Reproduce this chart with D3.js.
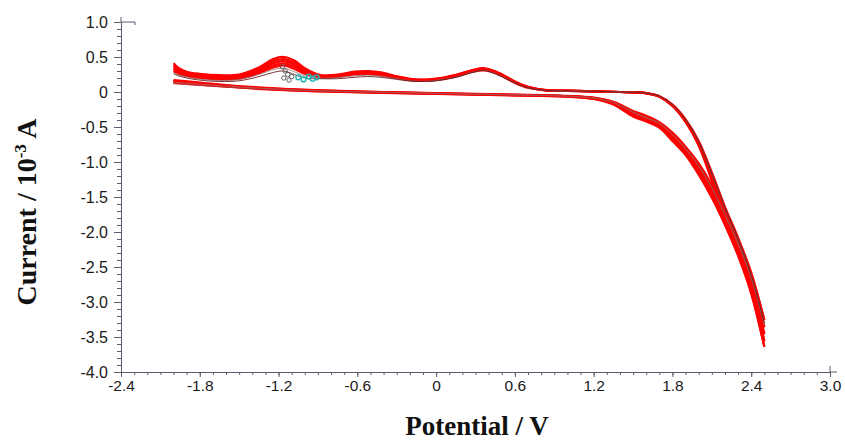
<!DOCTYPE html>
<html>
<head>
<meta charset="utf-8">
<script src="https://cdn.jsdelivr.net/npm/d3@7"></script>
<style>
  body { margin: 0; background: #fff; }
</style>
</head>
<body>
<div id="my_dataviz"></div>
<script>
// Potentials (V) of the two sweep directions
const fwdPotential = [-2.0, -1.6, -1.2, -0.8, -0.4, 0.0, 0.4, 0.8, 1.0, 1.2, 1.35, 1.5, 1.6, 1.7, 1.8, 1.9, 2.0, 2.1, 2.2, 2.3, 2.4, 2.5];
const revPotential = [2.5, 2.4, 2.3, 2.2, 2.1, 2.0, 1.9, 1.8, 1.7, 1.6, 1.4, 1.2, 1.0, 0.85, 0.7, 0.6, 0.5, 0.42, 0.36, 0.28, 0.15, 0.0,
  -0.15, -0.3, -0.42, -0.52, -0.62, -0.75, -0.88, -1.0, -1.08, -1.16, -1.24, -1.35, -1.5, -1.65, -1.8, -1.9, -1.96, -2.0];

// Current (10^-3 A), red cycles, forward sweep
const redForward = [
  [0.17, 0.10, 0.05, 0.02, 0.0, -0.015, -0.03, -0.045, -0.055, -0.08, -0.14, -0.27, -0.34, -0.43, -0.58, -0.78, -1.02, -1.33, -1.72, -2.12, -2.6, -3.26],
  [0.16, 0.09, 0.045, 0.015, -0.003, -0.018, -0.033, -0.048, -0.058, -0.085, -0.15, -0.29, -0.36, -0.45, -0.61, -0.81, -1.06, -1.38, -1.77, -2.18, -2.68, -3.36],
  [0.15, 0.085, 0.04, 0.012, -0.006, -0.021, -0.036, -0.05, -0.06, -0.09, -0.16, -0.31, -0.38, -0.47, -0.64, -0.84, -1.1, -1.42, -1.81, -2.23, -2.75, -3.46],
  [0.14, 0.08, 0.035, 0.008, -0.01, -0.024, -0.04, -0.053, -0.063, -0.095, -0.17, -0.33, -0.40, -0.49, -0.67, -0.87, -1.14, -1.47, -1.86, -2.29, -2.82, -3.56],
  [0.13, 0.075, 0.03, 0.005, -0.012, -0.027, -0.042, -0.056, -0.066, -0.1, -0.18, -0.35, -0.42, -0.51, -0.7, -0.9, -1.18, -1.51, -1.9, -2.34, -2.88, -3.64]
];

// Current (10^-3 A), red cycles, reverse sweep
const redReverse = [
  [-3.26, -2.58, -2.08, -1.64, -1.15, -0.70, -0.39, -0.18, -0.06, -0.015, 0.0, 0.01, 0.015, 0.02, 0.06, 0.13, 0.23, 0.29, 0.31, 0.29, 0.22, 0.17,
   0.16, 0.2, 0.24, 0.26, 0.25, 0.22, 0.21, 0.26, 0.33, 0.38, 0.35, 0.27, 0.19, 0.18, 0.2, 0.23, 0.26, 0.30],
  [-3.36, -2.65, -2.13, -1.68, -1.18, -0.72, -0.40, -0.185, -0.062, -0.016, 0.0, 0.01, 0.015, 0.02, 0.065, 0.135, 0.24, 0.3, 0.32, 0.30, 0.23, 0.175,
   0.165, 0.21, 0.25, 0.27, 0.26, 0.23, 0.22, 0.28, 0.36, 0.41, 0.38, 0.29, 0.21, 0.195, 0.215, 0.245, 0.28, 0.33],
  [-3.46, -2.72, -2.18, -1.72, -1.21, -0.73, -0.41, -0.19, -0.064, -0.017, 0.0, 0.01, 0.017, 0.022, 0.07, 0.14, 0.245, 0.305, 0.33, 0.305, 0.235, 0.18,
   0.17, 0.215, 0.26, 0.28, 0.27, 0.235, 0.23, 0.3, 0.39, 0.44, 0.41, 0.31, 0.22, 0.21, 0.23, 0.26, 0.3, 0.35],
  [-3.56, -2.79, -2.23, -1.76, -1.24, -0.75, -0.42, -0.195, -0.066, -0.018, 0.0, 0.01, 0.019, 0.024, 0.072, 0.145, 0.25, 0.31, 0.335, 0.31, 0.24, 0.185,
   0.175, 0.22, 0.27, 0.29, 0.28, 0.24, 0.235, 0.32, 0.42, 0.47, 0.44, 0.33, 0.235, 0.225, 0.245, 0.275, 0.32, 0.38],
  [-3.64, -2.86, -2.28, -1.80, -1.27, -0.77, -0.43, -0.2, -0.068, -0.02, 0.0, 0.01, 0.021, 0.026, 0.075, 0.15, 0.255, 0.315, 0.34, 0.315, 0.245, 0.19,
   0.18, 0.225, 0.28, 0.3, 0.29, 0.25, 0.24, 0.34, 0.45, 0.5, 0.47, 0.35, 0.25, 0.24, 0.26, 0.29, 0.34, 0.41]
];

// Early (grey) cycles
const grayForward = [0.14, 0.085, 0.04, 0.012, -0.004, -0.019, -0.034, -0.049, -0.059, -0.087, -0.15, -0.29, -0.37, -0.45, -0.61, -0.81, -1.06, -1.37, -1.76, -2.17, -2.66, -3.32];
const grayReverse = [-3.32, -2.62, -2.1, -1.66, -1.17, -0.71, -0.395, -0.183, -0.061, -0.016, 0.0, 0.01, 0.015, 0.02, 0.06, 0.13, 0.225, 0.285, 0.31, 0.285, 0.215, 0.165,
  0.155, 0.19, 0.225, 0.24, 0.23, 0.205, 0.2, 0.23, 0.29, 0.34, 0.32, 0.25, 0.18, 0.165, 0.185, 0.215, 0.245, 0.28];
const darkForward = [0.12, 0.07, 0.035, 0.01, -0.005, -0.02, -0.035, -0.05, -0.06, -0.085, -0.15, -0.28, -0.36, -0.44, -0.6, -0.8, -1.05, -1.36, -1.75, -2.15, -2.64, -3.3];
const darkReverse = [-3.3, -2.62, -2.1, -1.65, -1.16, -0.71, -0.395, -0.18, -0.06, -0.015, 0.0, 0.01, 0.015, 0.02, 0.06, 0.13, 0.22, 0.28, 0.31, 0.28, 0.21, 0.16,
  0.15, 0.18, 0.21, 0.22, 0.21, 0.19, 0.19, 0.2, 0.25, 0.3, 0.28, 0.22, 0.16, 0.15, 0.17, 0.2, 0.23, 0.26];

// Cursor markers near the -1.1 V peak
const grayMarkers = [[-1.17, 0.36], [-1.15, 0.30], [-1.13, 0.25], [-1.16, 0.20], [-1.10, 0.22], [-1.12, 0.17]];
const cyanMarkers = [[-1.05, 0.21], [-1.01, 0.18], [-0.97, 0.22], [-0.94, 0.19], [-0.91, 0.21]];

// Axis ticks
const xTicks = [-2.4, -1.8, -1.2, -0.6, 0, 0.6, 1.2, 1.8, 2.4, 3.0];
const xTickLabels = ["-2.4", "-1.8", "-1.2", "-0.6", "0", "0.6", "1.2", "1.8", "2.4", "3.0"];
const yTicks = [1.0, 0.5, 0, -0.5, -1.0, -1.5, -2.0, -2.5, -3.0, -3.5, -4.0];
const yTickLabels = ["1.0", "0.5", "0", "-0.5", "-1.0", "-1.5", "-2.0", "-2.5", "-3.0", "-3.5", "-4.0"];

const W = 845, H = 443;
const axisColor = "#5c5c6e";

const svg = d3.select("#my_dataviz")
  .append("svg")
    .attr("width", W)
    .attr("height", H);

// Scales
const x = d3.scaleLinear().domain([-2.4, 3.0]).range([121, 830]);
const y = d3.scaleLinear().domain([-4.0, 1.0]).range([372, 22]);

// Minor ticks every 0.1
const xMinor = d3.range(-24, 31).map(d => d / 10);
const yMinor = d3.range(-40, 11).map(d => d / 10);

// X axis (minor then major)
svg.append("g")
    .attr("transform", `translate(0,${y(-4.0)})`)
    .call(d3.axisBottom(x).tickValues(xMinor).tickSize(3).tickSizeOuter(0).tickFormat(""))
    .call(g => g.select(".domain").remove());
svg.append("g")
    .attr("class", "major xmajor")
    .attr("transform", `translate(0,${y(-4.0)})`)
    .call(d3.axisBottom(x).tickValues(xTicks).tickSize(5).tickSizeOuter(0).tickPadding(3)
      .tickFormat((d, i) => xTickLabels[i]));

// Y axis (minor then major)
svg.append("g")
    .attr("transform", `translate(${x(-2.4)},0)`)
    .call(d3.axisLeft(y).tickValues(yMinor).tickSize(4).tickSizeOuter(0).tickFormat(""))
    .call(g => g.select(".domain").remove());
svg.append("g")
    .attr("class", "major ymajor")
    .attr("transform", `translate(${x(-2.4)},0)`)
    .call(d3.axisLeft(y).tickValues(yTicks).tickSize(7).tickSizeOuter(0).tickPadding(6)
      .tickFormat((d, i) => yTickLabels[i]));

svg.selectAll(".tick line").attr("stroke", axisColor);
svg.selectAll(".domain").attr("stroke", axisColor);
svg.selectAll("g.major")
    .attr("font-family", "'Liberation Sans', Arial, sans-serif");
svg.select("g.xmajor").attr("font-size", 15.5);
svg.select("g.ymajor").attr("font-size", 16);
svg.selectAll("g.major .tick text")
    .attr("fill", "#1a1a1a");

// Small axis extensions, like the original plot frame
const deco = svg.append("g").attr("stroke", axisColor).attr("fill", "none");
deco.append("line").attr("x1", x(-2.4)).attr("x2", x(-2.4)).attr("y1", y(1.0) - 5).attr("y2", y(1.0));
deco.append("line").attr("x1", x(-2.4)).attr("x2", x(-2.4) + 14).attr("y1", y(1.0)).attr("y2", y(1.0));
deco.append("line").attr("x1", x(-2.4) + 14).attr("x2", x(-2.4) + 14).attr("y1", y(1.0)).attr("y2", y(1.0) + 3);
deco.append("line").attr("x1", x(3.0)).attr("x2", x(3.0) + 7).attr("y1", y(-4.0)).attr("y2", y(-4.0));
deco.append("line").attr("x1", x(3.0)).attr("x2", x(3.0)).attr("y1", y(-4.0) - 6).attr("y2", y(-4.0));

// Line generator
const line = d3.line()
    .x(d => x(d[0]))
    .y(d => y(d[1]))
    .curve(d3.curveCatmullRom.alpha(0.5));

const pair = (pot, cur) => pot.map((e, i) => [e, cur[i]]);

// Red cycles
const curves = svg.append("g").attr("fill", "none");
redForward.forEach((c, i) => {
  curves.append("path").attr("d", line(pair(fwdPotential, c)))
    .attr("stroke", "#ff0000").attr("stroke-width", 2.2);
  curves.append("path").attr("d", line(pair(revPotential, redReverse[i])))
    .attr("stroke", "#ff0000").attr("stroke-width", 2.2);
});

// Early cycles on top, thin
curves.append("path").attr("d", line(pair(fwdPotential, grayForward)))
  .attr("stroke", "#a07878").attr("stroke-width", 0.7);
curves.append("path").attr("d", line(pair(revPotential, grayReverse)))
  .attr("stroke", "#8f6a6a").attr("stroke-width", 0.8);
curves.append("path").attr("d", line(pair(fwdPotential, darkForward)))
  .attr("stroke", "#9a4a4a").attr("stroke-width", 0.7);
curves.append("path").attr("d", line(pair(revPotential, darkReverse)))
  .attr("stroke", "#6a1c1c").attr("stroke-width", 0.9);

// Markers
svg.append("g").selectAll("circle.gm")
  .data(grayMarkers).enter().append("circle")
    .attr("cx", d => x(d[0])).attr("cy", d => y(d[1])).attr("r", 2.2)
    .attr("fill", "none").attr("stroke", "#555").attr("stroke-width", 0.9);
svg.append("g").selectAll("circle.cm")
  .data(cyanMarkers).enter().append("circle")
    .attr("cx", d => x(d[0])).attr("cy", d => y(d[1])).attr("r", 2.4)
    .attr("fill", "none").attr("stroke", "#22b5b5").attr("stroke-width", 1.4);

// Axis titles
svg.append("text")
    .attr("x", 477)
    .attr("y", 435)
    .attr("text-anchor", "middle")
    .style("font-family", "'Liberation Serif', 'Times New Roman', serif")
    .style("font-weight", "bold")
    .style("font-size", "27px")
    .attr("fill", "#111")
    .text("Potential / V");

const yTitle = svg.append("text")
    .attr("transform", "translate(36,212) rotate(-90)")
    .attr("text-anchor", "middle")
    .style("font-family", "'Liberation Serif', 'Times New Roman', serif")
    .style("font-weight", "bold")
    .style("font-size", "28px")
    .attr("fill", "#111");
yTitle.append("tspan").text("Current / 10");
yTitle.append("tspan").attr("dy", -10).style("font-size", "17px").text("-3");
yTitle.append("tspan").attr("dy", 10).text(" A");
</script>
</body>
</html>
